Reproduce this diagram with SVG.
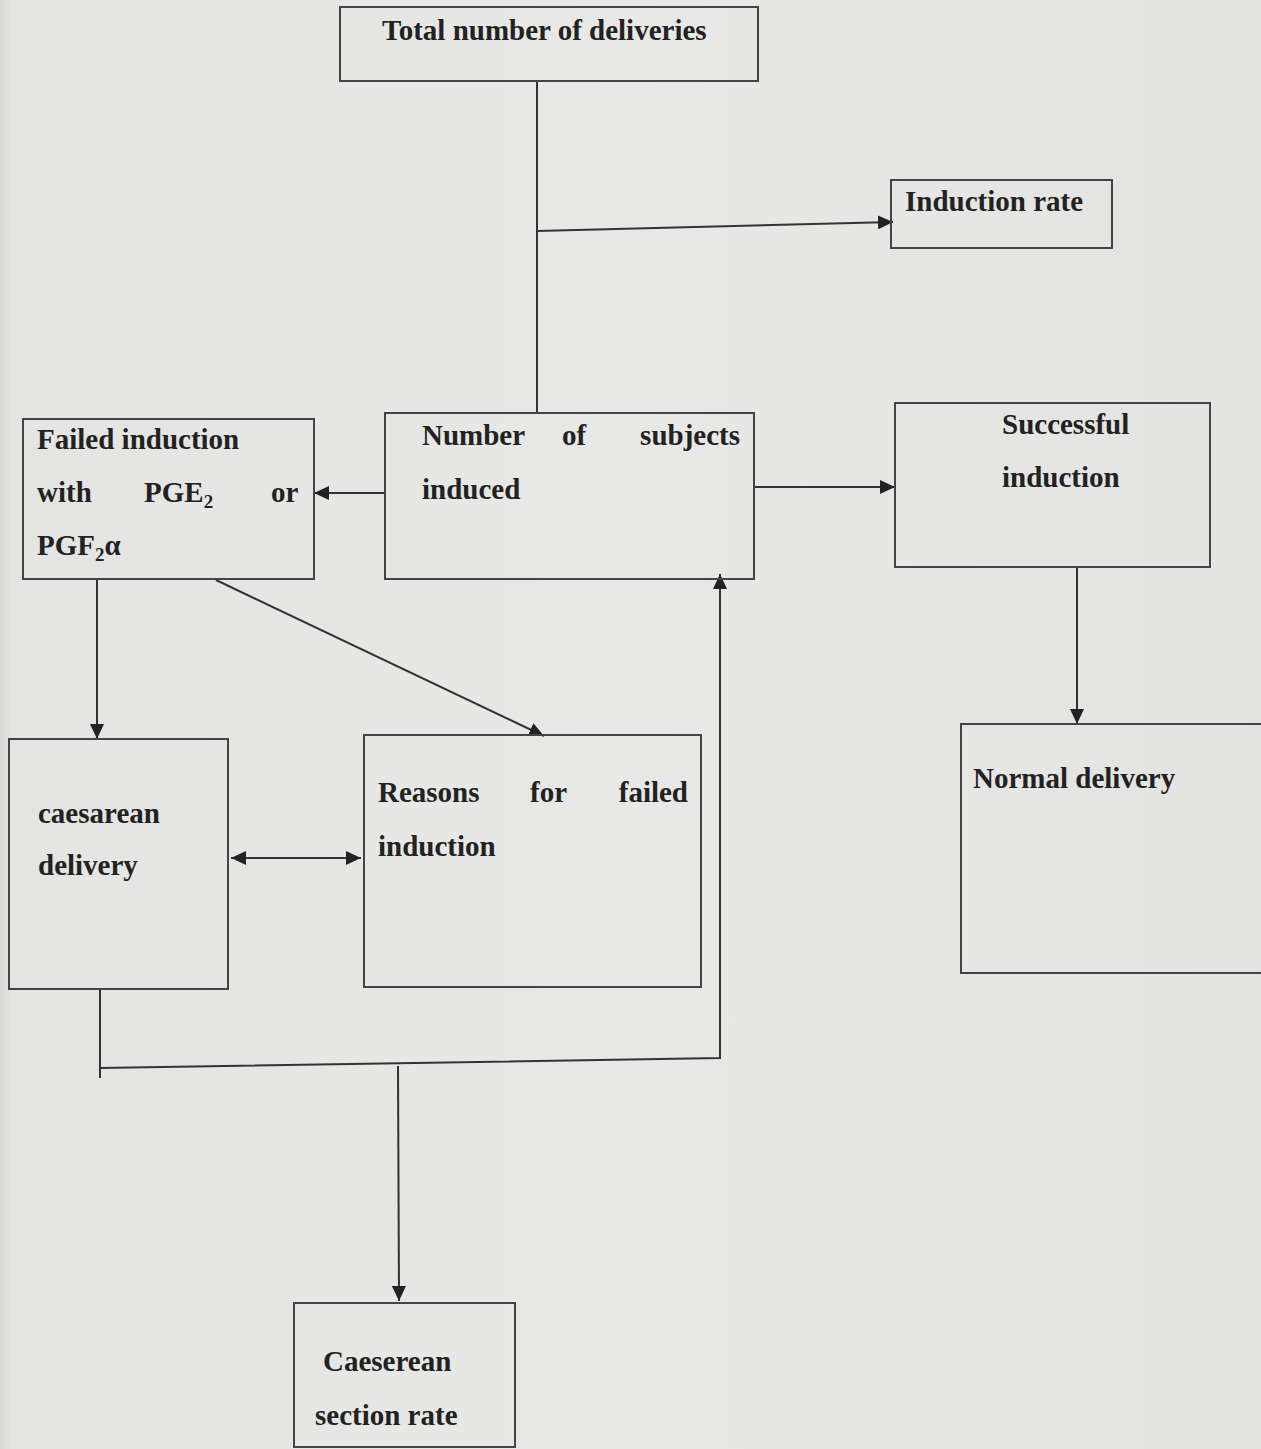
<svg xmlns="http://www.w3.org/2000/svg" width="1261" height="1449" viewBox="0 0 1261 1449">
<defs>
<linearGradient id="bg" x1="0" y1="0" x2="1" y2="0">
<stop offset="0" stop-color="#d6d6d4"/>
<stop offset="0.01" stop-color="#e4e4e2"/>
<stop offset="0.5" stop-color="#e8e8e6"/>
<stop offset="1" stop-color="#e3e3e1"/>
</linearGradient>
<marker id="arr" markerUnits="userSpaceOnUse" markerWidth="16" markerHeight="14" refX="15" refY="7" orient="auto-start-reverse">
<path d="M0,0 L15,7 L0,14 z" fill="#222"/>
</marker>
</defs>
<style>
.box{fill:none;stroke:#444;stroke-width:2}
.ln{fill:none;stroke:#333;stroke-width:2}
.t{font-family:"Liberation Serif","Times New Roman",serif;font-weight:bold;font-size:29px;fill:#222}
.sub{font-size:19px}
</style>
<rect x="0" y="0" width="1261" height="1449" fill="url(#bg)"/>

<g id="connectors">
<polyline class="ln" points="537,81 537,413"/>
<line class="ln" x1="537" y1="231" x2="893" y2="222" marker-end="url(#arr)"/>
<line class="ln" x1="385" y1="493" x2="314" y2="493" marker-end="url(#arr)"/>
<line class="ln" x1="754" y1="487" x2="895" y2="487" marker-end="url(#arr)"/>
<line class="ln" x1="97" y1="579" x2="97" y2="739" marker-end="url(#arr)"/>
<line class="ln" x1="216" y1="580" x2="544" y2="736" marker-end="url(#arr)"/>
<line class="ln" x1="1077" y1="567" x2="1077" y2="724" marker-end="url(#arr)"/>
<line class="ln" x1="231" y1="858" x2="361" y2="858" marker-start="url(#arr)" marker-end="url(#arr)"/>
<polyline class="ln" points="100,989 100,1078"/>
<polyline class="ln" points="100,1068 720,1058 720,574" marker-end="url(#arr)"/>
<line class="ln" x1="398" y1="1066" x2="399" y2="1301" marker-end="url(#arr)"/>
</g>

<g id="total">
<rect class="box" x="340" y="7" width="418" height="74"/>
<text class="t" x="382" y="40">Total number of deliveries</text>
</g>

<g id="induction-rate">
<rect class="box" x="891" y="180" width="221" height="68"/>
<text class="t" x="905" y="211">Induction rate</text>
</g>

<g id="subjects">
<rect class="box" x="385" y="413" width="369" height="166"/>
<text class="t" x="422" y="445">Number</text>
<text class="t" x="562" y="445">of</text>
<text class="t" x="740" y="445" text-anchor="end">subjects</text>
<text class="t" x="422" y="499">induced</text>
</g>

<g id="failed">
<rect class="box" x="23" y="419" width="291" height="160"/>
<text class="t" x="37" y="449">Failed induction</text>
<text class="t" x="37" y="502">with</text>
<text class="t" x="144" y="502">PGE<tspan class="sub" dy="6">2</tspan></text>
<text class="t" x="271" y="502">or</text>
<text class="t" x="37" y="555">PGF<tspan class="sub" dy="6">2</tspan><tspan dy="-6">α</tspan></text>
</g>

<g id="successful">
<rect class="box" x="895" y="403" width="315" height="164"/>
<text class="t" x="1002" y="434">Successful</text>
<text class="t" x="1002" y="487">induction</text>
</g>

<g id="caesarean">
<rect class="box" x="9" y="739" width="219" height="250"/>
<text class="t" x="38" y="823">caesarean</text>
<text class="t" x="38" y="875">delivery</text>
</g>

<g id="reasons">
<rect class="box" x="364" y="735" width="337" height="252"/>
<text class="t" x="378" y="802">Reasons</text>
<text class="t" x="530" y="802">for</text>
<text class="t" x="688" y="802" text-anchor="end">failed</text>
<text class="t" x="378" y="856">induction</text>
</g>

<g id="normal">
<rect class="box" x="961" y="724" width="302" height="249"/>
<text class="t" x="973" y="788">Normal delivery</text>
</g>

<g id="cs-rate">
<rect class="box" x="294" y="1303" width="221" height="144"/>
<text class="t" x="323" y="1371">Caeserean</text>
<text class="t" x="315" y="1425">section rate</text>
</g>
</svg>
